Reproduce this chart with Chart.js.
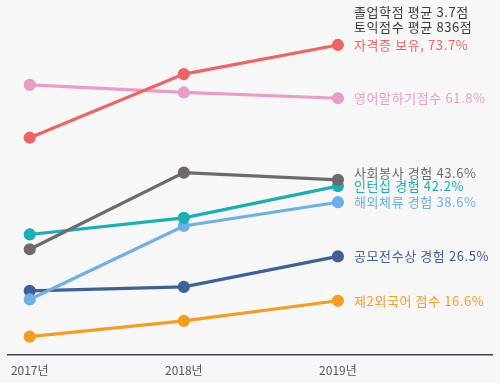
<!DOCTYPE html>
<html>
<head>
<meta charset="utf-8">
<script src="https://cdn.jsdelivr.net/npm/chart.js@4"></script>
<style>
  html, body { margin: 0; padding: 0; background: #f7f7f7; }
  #wrap { width: 500px; height: 383px; }
</style>
</head>
<body>
<div id="wrap"><canvas id="chartSpecs"></canvas></div>
<script>
// years on the x axis and their tick labels
const years = [2017, 2018, 2019];
const yearLabels = ["2017년", "2018년", "2019년"];

// series (percent)
const seriesNames = [
  "자격증 보유, 73.7%",
  "영어말하기점수 61.8%",
  "사회봉사 경험 43.6%",
  "인턴십 경험 42.2%",
  "해외체류 경험 38.6%",
  "공모전수상 경험 26.5%",
  "제2외국어 점수 16.6%",
];
const certificate = [53.0, 67.2, 73.7];
const speaking = [64.8, 63.1, 61.8];
const volunteer = [28.1, 45.2, 43.6];
const intern = [31.4, 35.1, 42.2];
const abroad = [16.9, 33.3, 38.6];
const contest = [18.8, 19.7, 26.5];
const secondLang = [8.6, 12.1, 16.6];

const notes = ["졸업학점 평균 3.7점", "토익점수 평균 836점"];

const colors = ["#ef6462", "#ea9bc7", "#6e6a6b", "#1aaeb8", "#6cb0e5", "#3c6299", "#f49d21"];
const labelShift = [0, 0, -7, 0, 0, 0, 0];

const allSeries = [certificate, speaking, volunteer, intern, abroad, contest, secondLang];

document.addEventListener("DOMContentLoaded", () => {
  const ctx = document.getElementById("chartSpecs").getContext("2d");
  const font = "'Noto Sans CJK KR', 'Noto Sans', sans-serif";

  const endLabels = {
    id: "endLabels",
    afterDatasetsDraw(chart) {
      const c = chart.ctx;
      c.save();
      c.font = "13px " + font;
      c.letterSpacing = "0.6px";
      c.textBaseline = "middle";
      c.textAlign = "left";
      chart.data.datasets.forEach((ds, i) => {
        const pt = chart.getDatasetMeta(i).data[2];
        c.fillStyle = ds.borderColor;
        c.fillText(seriesNames[i], 354, pt.y + labelShift[i]);
      });
      const top = chart.getDatasetMeta(0).data[2];
      c.fillStyle = "#3a3a3a";
      c.fillText(notes[0], 354, top.y - 33);
      c.fillText(notes[1], 354, top.y - 18);
      c.restore();
    },
  };

  new Chart(ctx, {
    type: "line",
    data: {
      datasets: allSeries.map((vals, i) => ({
        label: seriesNames[i],
        data: vals.map((v, j) => ({ x: years[j], y: v })),
        borderColor: colors[i],
        backgroundColor: colors[i],
        borderWidth: 3.2,
        pointRadius: 4.5,
        pointHoverRadius: 4.5,
        tension: 0,
      })),
    },
    options: {
      responsive: true,
      maintainAspectRatio: false,
      animation: false,
      layout: { padding: { left: 7, right: 8, top: 10, bottom: 0 } },
      plugins: { legend: { display: false }, tooltip: { enabled: false } },
      scales: {
        x: {
          type: "linear",
          min: 2016.857,
          max: 2020,
          afterBuildTicks: (axis) => {
            axis.ticks = years.map((v) => ({ value: v }));
          },
          afterFit: (axis) => { axis.height = 28; },
          grid: { display: false, drawTicks: false },
          border: { display: true, color: "#3a4048", width: 1.6 },
          ticks: {
            padding: 8,
            color: "#555",
            font: { size: 12, family: font },
            callback: (v) => yearLabels[years.indexOf(v)],
          },
        },
        y: { display: false, min: 4.5, max: 81.5 },
      },
    },
    plugins: [endLabels],
  });
});
</script>
</body>
</html>
